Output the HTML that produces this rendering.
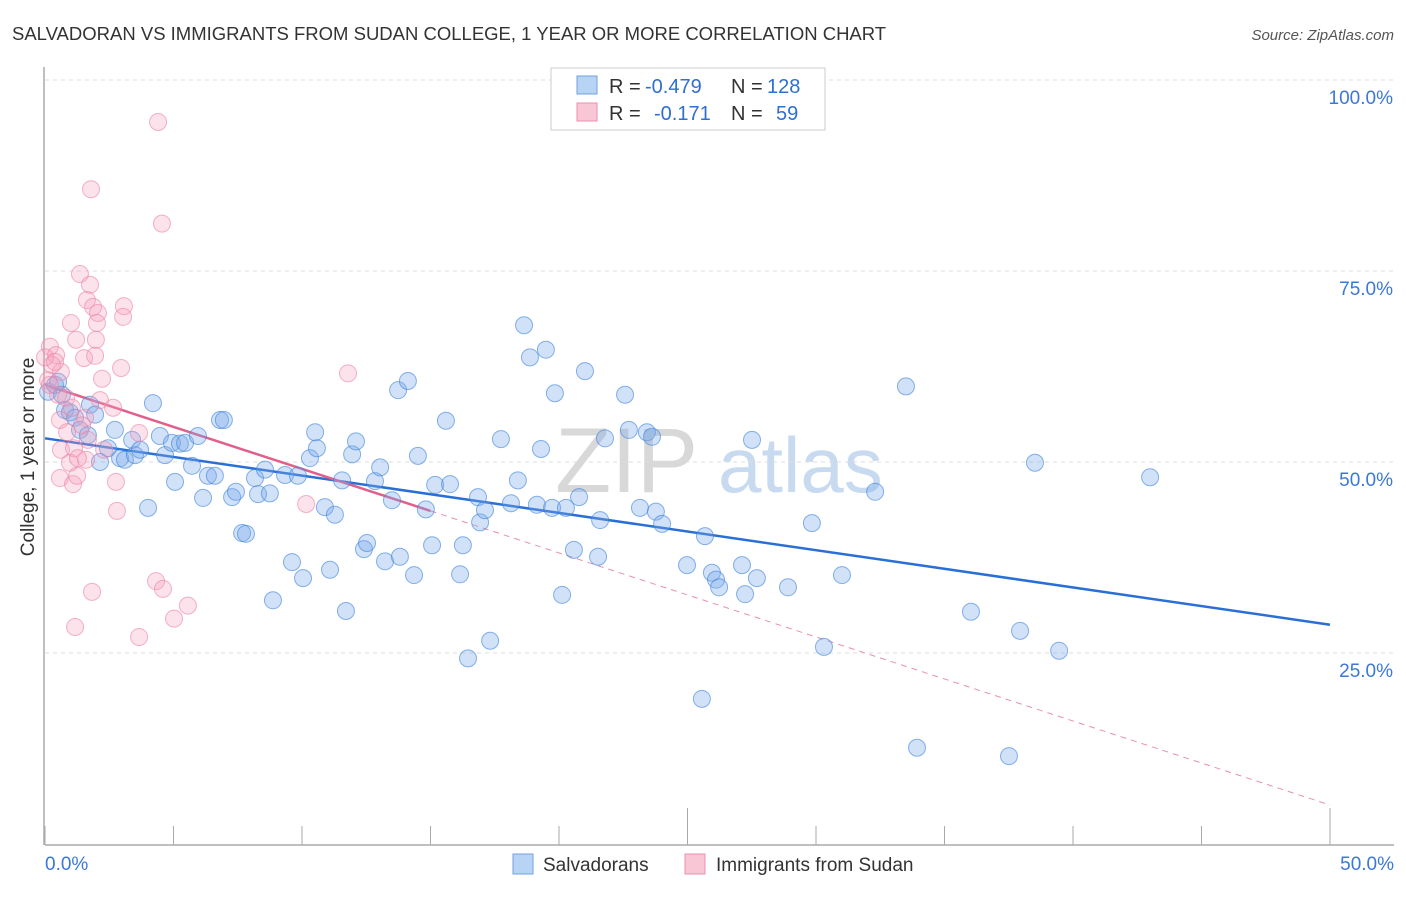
<!DOCTYPE html>
<html><head><meta charset="utf-8"><style>
body{margin:0;background:#fff;font-family:"Liberation Sans",sans-serif}
svg text{font-family:"Liberation Sans",sans-serif}
</style></head><body>
<svg id="chart" width="1406" height="892" xmlns="http://www.w3.org/2000/svg">
<text x="12" y="40" font-size="18.5" fill="#333">SALVADORAN VS IMMIGRANTS FROM SUDAN COLLEGE, 1 YEAR OR MORE CORRELATION CHART</text>
<text x="1394" y="40" font-size="15" fill="#555" font-style="italic" text-anchor="end">Source: ZipAtlas.com</text>
<g>
<text x="555" y="492" font-size="92" fill="#d8d8d8" font-family="Liberation Serif,serif">ZIP</text>
<text x="718" y="492" font-size="78" fill="#c8daf0">atlas</text>
</g>
<g id="grid"></g>
<g id="axes"></g>
<g id="lines"></g>
<g id="points"></g>
<text transform="translate(34,457) rotate(-90)" font-size="19" fill="#333" text-anchor="middle">College, 1 year or more</text>
<g>
<rect x="551" y="68" width="274" height="62" fill="#fff" stroke="#ccc"/>
<rect x="577" y="76" width="20" height="18" fill="#b8d4f5" stroke="#6fa0e0"/>
<rect x="577" y="103" width="20" height="18" fill="#f9c6d5" stroke="#e890ad"/>
<g font-size="20">
<text x="609" y="93" fill="#333">R =</text><text x="645" y="93" fill="#2f6fd0">-0.479</text>
<text x="731" y="93" fill="#333">N =</text><text x="767" y="93" fill="#2f6fd0">128</text>
</g>
<g font-size="20">
<text x="609" y="120" fill="#333">R =</text><text x="654" y="120" fill="#2f6fd0">-0.171</text>
<text x="731" y="120" fill="#333">N =</text><text x="776" y="120" fill="#2f6fd0">59</text>
</g>
</g>
<g>
<rect x="513" y="854" width="20" height="20" fill="#b8d4f5" stroke="#6fa0e0"/>
<text x="543" y="871" font-size="19" fill="#333">Salvadorans</text>
<rect x="685" y="854" width="20" height="20" fill="#f9c6d5" stroke="#e890ad"/>
<text x="716" y="871" font-size="19" fill="#333">Immigrants from Sudan</text>
</g>
</svg>
<script>
const xTickValues=[0,5,10,15,20,25,30,35,40,45,50];
const yTickValues=[25,50,75,100];
const yTickLabels=["25.0%","50.0%","75.0%","100.0%"];
const xEndLabels=["0.0%","50.0%"];
const blueX=[.12,.39,.51,.66,.78,.97,1.17,1.36,1.67,1.75,1.95,2.14,2.45,2.72,2.92,3.11,3.5,3.39,3.7,4.01,4.2,4.47,4.67,4.94,5.25,5.45,5.06,5.72,5.95,6.15,6.34,6.61,6.81,6.96,7.28,7.43,7.67,7.82,8.17,8.29,8.56,8.75,8.87,9.34,9.61,9.84,10.04,10.31,10.51,10.58,10.89,11.09,11.28,11.56,11.71,11.95,12.1,12.41,12.53,12.84,13.04,13.23,13.5,13.74,13.81,14.12,14.36,14.51,14.82,15.06,15.18,15.6,15.76,16.15,16.26,16.46,16.85,16.93,17.12,17.32,17.74,18.13,18.4,18.64,18.87,19.14,19.3,19.49,19.73,19.84,20.12,20.27,20.58,20.78,21.01,21.52,21.6,21.79,22.57,22.72,23.15,23.42,23.62,23.77,24.01,24.98,25.56,25.68,25.95,26.11,26.23,27.12,27.24,27.7,27.51,28.91,29.84,30.31,31.01,32.3,33.5,33.93,36.03,37.51,37.94,38.52,39.46,43.0];
const blueY=[59.2,60.1,60.5,58.8,56.8,56.5,55.8,54.2,53.5,57.5,56.2,50.0,51.8,54.2,50.5,50.3,50.9,52.9,51.6,44.0,57.7,53.4,50.9,52.5,52.4,52.5,47.4,49.5,53.4,45.3,48.2,48.2,55.5,55.5,45.4,46.1,40.7,40.6,47.9,45.8,49.0,45.9,31.9,48.3,36.9,48.2,34.8,50.5,53.9,51.8,44.1,35.9,43.1,47.6,30.5,51.0,52.7,38.6,39.4,47.5,49.3,37.0,45.0,59.4,37.6,60.6,35.2,50.8,43.8,39.1,47.0,55.4,47.1,35.3,39.1,24.3,45.4,42.1,43.7,26.6,53.0,44.6,47.6,67.9,63.7,44.4,51.7,64.7,44.0,59.0,32.6,44.0,38.5,45.4,61.9,37.6,42.4,53.1,58.8,54.2,44.0,53.9,53.3,43.5,41.9,36.5,19.0,40.3,35.5,34.6,33.6,36.5,32.7,34.8,52.9,33.6,42.0,25.8,35.2,46.1,59.9,12.6,30.4,11.5,27.9,49.9,25.3,48.0];
const pinkX=[4.4,1.79,4.55,1.36,1.75,1.63,1.87,2.06,3.07,3.04,2.02,1.01,1.21,1.98,.19,.43,1.52,1.95,2.96,2.22,.62,.27,11.79,.12,.51,.82,1.05,1.56,2.14,2.65,.58,.86,1.44,1.67,3.66,.62,1.13,2.3,1.6,.97,1.28,.58,1.09,1.25,2.76,2.8,10.16,1.83,4.32,4.59,1.17,5.02,5.56,3.66,0,.39,.19];
const pinkY=[94.5,85.7,81.2,74.6,73.2,71.2,70.3,69.5,70.4,69.0,68.2,68.2,66.0,66.0,65.1,64.0,63.6,63.9,62.3,60.9,61.8,62.7,61.6,60.7,58.8,58.4,57.1,55.8,58.1,57.1,55.5,53.9,54.8,52.9,53.8,51.6,51.8,51.6,50.3,49.9,50.5,47.9,47.1,48.2,47.4,43.6,44.5,33.0,34.4,33.4,28.4,29.5,31.2,27.1,63.7,63.1,60.1];
const blueTrend=[53.1,28.7];
const pinkTrend=[60.1,5.1];
const pinkSolidEnd=15;

const NS="http://www.w3.org/2000/svg";
const X=v=>45+v/50*1285;
const Y=v=>844-v/100*764;
function mk(tag,attrs,parent){const e=document.createElementNS(NS,tag);for(const k in attrs)e.setAttribute(k,attrs[k]);parent.appendChild(e);return e;}
const grid=document.getElementById('grid'),axes=document.getElementById('axes'),lines=document.getElementById('lines'),pts=document.getElementById('points');
yTickValues.forEach((v,i)=>{
  const l=mk('line',{x1:45,x2:1394,y1:Y(v),y2:Y(v),stroke:'#ddd','stroke-dasharray':'4,4'},grid);
  
  
  const t=mk('text',{x:1393,y:Y(v)+24,'font-size':19,fill:'#3b78d8','text-anchor':'end'},axes);
  t.textContent=yTickLabels[i];
  
  
});
const ax=mk('line',{x1:45,x2:1394,y1:845,y2:845,stroke:'#aaa','stroke-width':1.5},axes);


const ay=mk('line',{x1:44,x2:44,y1:67,y2:845,stroke:'#aaa','stroke-width':1.5},axes);


xTickValues.forEach(v=>{
  const major=(v===25||v===50);
  const t=mk('line',{x1:X(v),x2:X(v),y1:major?808:826,y2:845,stroke:'#aaa'},axes);
  
  
});
[[0,'start',45],[1,'end',1394]].forEach(([i,a,x])=>{
  const t=mk('text',{x:x,y:870,'font-size':19,fill:'#3b78d8','text-anchor':a},axes);
  t.textContent=xEndLabels[i];
  
  
});
for(let i=0;i<blueX.length;i++){
  const c=mk('circle',{cx:X(blueX[i]),cy:Y(blueY[i]),r:8.5,fill:'rgba(120,170,235,0.35)',stroke:'rgba(60,130,220,0.6)','stroke-width':1},pts);
  
  
}
for(let i=0;i<pinkX.length;i++){
  const c=mk('circle',{cx:X(pinkX[i]),cy:Y(pinkY[i]),r:8.5,fill:'rgba(245,160,190,0.3)',stroke:'rgba(235,130,165,0.6)','stroke-width':1},pts);
  
  
}
const pAt=x=>pinkTrend[0]+(pinkTrend[1]-pinkTrend[0])*x/50;
const bl=mk('line',{x1:X(0),y1:Y(blueTrend[0]),x2:X(50),y2:Y(blueTrend[1]),stroke:'#2a6fd6','stroke-width':2.5},lines);


const pd=mk('line',{x1:X(pinkSolidEnd),y1:Y(pAt(pinkSolidEnd)),x2:X(50),y2:Y(pinkTrend[1]),stroke:'#e891ad','stroke-width':1,'stroke-dasharray':'6,5'},lines);


const ps=mk('line',{x1:X(0),y1:Y(pinkTrend[0]),x2:X(pinkSolidEnd),y2:Y(pAt(pinkSolidEnd)),stroke:'#e0608a','stroke-width':2.5},lines);


</script>
</body></html>
